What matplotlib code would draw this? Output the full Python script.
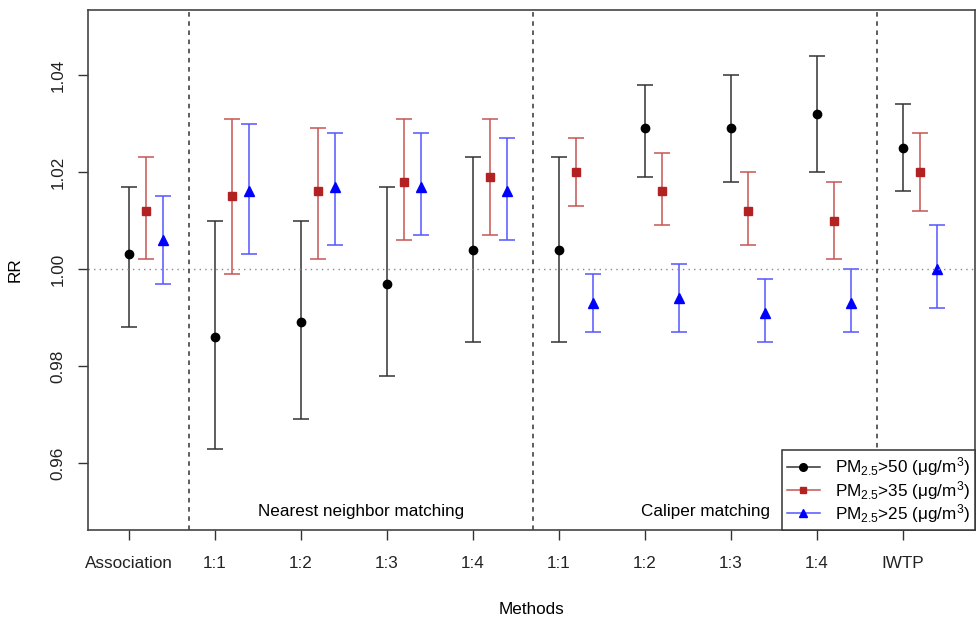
import numpy as np
import matplotlib
matplotlib.use("Agg")
from matplotlib import pyplot as plt

plt.rcParams['font.family'] = ['Liberation Sans', 'DejaVu Sans']
plt.rcParams['mathtext.fontset'] = 'custom'
plt.rcParams['mathtext.rm'] = 'Liberation Sans'
plt.rcParams['mathtext.it'] = 'Liberation Sans'

methods = ["Association", "1:1", "1:2", "1:3", "1:4", "1:1", "1:2", "1:3", "1:4", "IWTP"]
groups = ["Nearest neighbor matching", "Caliper matching"]

# PM2.5 > 50
rr50 = [1.003, 0.986, 0.989, 0.997, 1.004, 1.004, 1.029, 1.029, 1.032, 1.025]
lo50 = [0.988, 0.963, 0.969, 0.978, 0.985, 0.985, 1.019, 1.018, 1.020, 1.016]
hi50 = [1.017, 1.010, 1.010, 1.017, 1.023, 1.023, 1.038, 1.040, 1.044, 1.034]
# PM2.5 > 35
rr35 = [1.012, 1.015, 1.016, 1.018, 1.019, 1.020, 1.016, 1.012, 1.010, 1.020]
lo35 = [1.002, 0.999, 1.002, 1.006, 1.007, 1.013, 1.009, 1.005, 1.002, 1.012]
hi35 = [1.023, 1.031, 1.029, 1.031, 1.031, 1.027, 1.024, 1.020, 1.018, 1.028]
# PM2.5 > 25
rr25 = [1.006, 1.016, 1.017, 1.017, 1.016, 0.993, 0.994, 0.991, 0.993, 1.000]
lo25 = [0.997, 1.003, 1.005, 1.007, 1.006, 0.987, 0.987, 0.985, 0.987, 0.992]
hi25 = [1.015, 1.030, 1.028, 1.028, 1.027, 0.999, 1.001, 0.998, 1.000, 1.009]

fs = 12.3
fig = plt.figure(figsize=(9.76, 6.18), dpi=100)
ax = fig.add_axes([0.0902, 0.1424, 0.9088, 0.8414])

x = np.arange(len(methods))
series = [
    (rr50, lo50, hi50, 0.0, 'black', '#333333', 'o', 6, r'PM$_{2.5}$>50 ($\mu$g/m$^3$)'),
    (rr35, lo35, hi35, 0.2, '#B22222', '#C55555', 's', 5.5, r'PM$_{2.5}$>35 ($\mu$g/m$^3$)'),
    (rr25, lo25, hi25, 0.4, '#0000FF', '#5555FF', '^', 6.5, r'PM$_{2.5}$>25 ($\mu$g/m$^3$)'),
]
handles = []
for rr, lo, hi, off, c, ec, m, ms, lab in series:
    rr = np.array(rr); lo = np.array(lo); hi = np.array(hi)
    ax.errorbar(x + off, rr, yerr=[rr - lo, hi - rr], fmt='none', ecolor=ec,
                elinewidth=1.1, capsize=5.5, capthick=1.1)
    ax.plot(x + off, rr, linestyle='none', marker=m, color=c, markersize=ms)
    h, = ax.plot([], [], color=ec, marker=m, markerfacecolor=c, markeredgecolor=c,
                 markersize=ms - 0.5, lw=1.1, label=lab)
    handles.append(h)

ax.axhline(1.0, color='#888888', linestyle=(0, (1, 3)), lw=1)
for xv in [0.7, 4.7, 8.7]:
    ax.axvline(xv, color='#333333', linestyle=(0, (3, 3)), lw=1.1)

ax.text(2.7, 0.9501, groups[0], ha='center', va='center', fontsize=fs)
ax.text(6.7, 0.9501, groups[1], ha='center', va='center', fontsize=fs)

ax.set_xlim(-0.477, 9.84)
ax.set_ylim(0.9462, 1.0534)
ax.set_xticks(x)
ax.set_xticklabels(methods, fontsize=fs)
ax.set_yticks([0.96, 0.98, 1.00, 1.02, 1.04])
ax.set_yticklabels(["0.96", "0.98", "1.00", "1.02", "1.04"], fontsize=fs, rotation=90, va='center')
ax.tick_params(direction='out', length=7, width=1, colors='#333333', labelcolor='#222222')
ax.tick_params(axis='x', pad=12)
ax.tick_params(axis='y', pad=9)
for s in ax.spines.values():
    s.set_color('#444444')
    s.set_linewidth(1.2)
ax.set_xlabel("Methods", fontsize=fs, labelpad=22)
ax.set_ylabel("RR", fontsize=fs, labelpad=20)

leg = ax.legend(handles=handles, loc='lower right', fontsize=fs, frameon=True, fancybox=False,
                edgecolor='#333333', framealpha=1, borderaxespad=0, handlelength=1.9,
                handletextpad=0.9, labelspacing=0.02, borderpad=0.3)
leg.get_frame().set_linewidth(1.1)

fig.savefig("out.png", dpi=100)
